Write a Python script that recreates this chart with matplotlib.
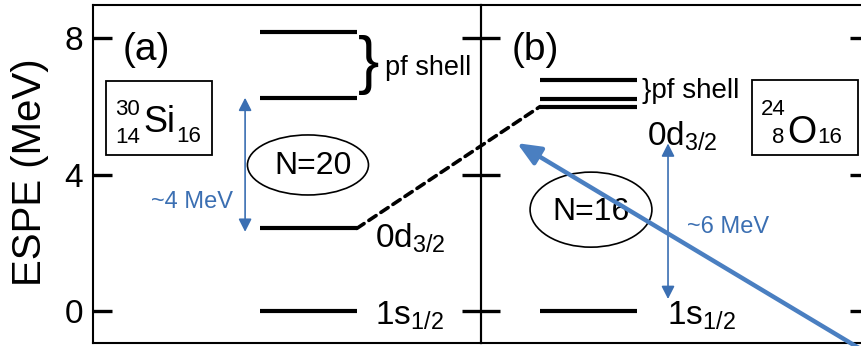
import matplotlib
matplotlib.use("Agg")
import matplotlib.pyplot as plt
from matplotlib.patches import Ellipse, Rectangle, ConnectionPatch

plt.rcParams['font.family'] = ['Liberation Sans', 'DejaVu Sans']
plt.rcParams['mathtext.fontset'] = 'custom'
plt.rcParams['mathtext.rm'] = 'Liberation Sans'
plt.rcParams['mathtext.default'] = 'regular'

# ---------------- data ----------------
si_pf_levels = [8.17, 6.23]          # 30Si pf-shell ESPEs (MeV)
si_d32 = 2.42                        # 30Si 0d3/2
si_s12 = 0.0                         # 30Si 1s1/2
o_pf_levels = [6.77, 6.20]           # 24O pf-shell ESPEs (MeV)
o_d32 = 5.99                         # 24O 0d3/2
o_s12 = 0.0                          # 24O 1s1/2
gap_si = (si_d32 - 0.10, si_pf_levels[1] + 0.02)   # ~4 MeV arrow ends
gap_o = (0.35, 4.91)                               # ~6 MeV arrow ends
yticks = [0, 4, 8]
ytick_labels = ['0', '4', '8']
ylabel = 'ESPE (MeV)'

BLUE = '#3b6fb2'
BIGBLUE = '#4a7fc1'

W, H = 861, 346
fig = plt.figure(figsize=(W / 100, H / 100), dpi=100)
axa = fig.add_axes([93 / W, 3 / H, 388 / W, 338 / H])
axb = fig.add_axes([481 / W, 3 / H, 388 / W, 338 / H])

for ax in (axa, axb):
    ax.set_xlim(0, 1)
    ax.set_ylim(-0.94, 8.97)
    ax.set_xticks([])
    ax.set_yticks(yticks)
    ax.set_yticks([0], minor=True)
    ax.tick_params(axis='y', which='major', direction='in', left=True, right=True,
                   length=13.7, width=2.4, labelsize=24, pad=7)
    ax.tick_params(axis='y', which='minor', direction='in', left=True, right=True,
                   length=20.9, width=2.4, labelleft=False)
    for s in ax.spines.values():
        s.set_linewidth(1.5)
    ax.patch.set_alpha(0)

axa.set_yticklabels(ytick_labels)
axb.tick_params(axis='y', labelleft=False)

fig.text(30 / W, 1 - 172 / H, ylabel, rotation=90, fontsize=29,
         ha='center', va='center')

# ---------------- panel (a): 30Si ----------------
ax0, ax1 = 0.43, 0.68
axa.hlines(si_pf_levels + [si_d32, si_s12], ax0, ax1, colors='k', lw=3)
axa.text(0.138, 7.65, '(a)', fontsize=28, ha='center', va='center')
axa.text(0.711, 7.2, '}', fontsize=46, ha='center', va='center')
axa.text(0.753, 6.92, 'pf shell', fontsize=19.5, ha='left', va='baseline')
axa.text(0.727, 1.85, '0d$_{3/2}$', fontsize=24, ha='left', va='baseline')
axa.text(0.727, -0.41, '1s$_{1/2}$', fontsize=24, ha='left', va='baseline')

axa.add_patch(Rectangle((0.0335, 4.57), 0.2735, 2.17, fill=False, lw=1.3, color='k'))
axa.text(0.129, 5.245, 'Si', fontsize=26, ha='left', va='baseline')
axa.text(0.121, 5.74, '30', fontsize=16, ha='right', va='baseline')
axa.text(0.121, 4.92, '14', fontsize=16, ha='right', va='baseline')
axa.text(0.214, 4.95, '16', fontsize=16, ha='left', va='baseline')

axa.add_patch(Ellipse((0.554, 4.28), 0.312, 1.76, fill=False, lw=1.2, color='k'))
axa.text(0.567, 4.25, 'N=20', fontsize=23, ha='center', va='center')

axa.annotate('', xy=(0.392, gap_si[1]), xytext=(0.392, gap_si[0]),
             arrowprops=dict(arrowstyle='<|-|>,head_length=0.55,head_width=0.28',
                             mutation_scale=14, color=BLUE, lw=1.2,
                             shrinkA=0, shrinkB=0))
axa.text(0.255, 3.19, '~4 MeV', fontsize=17, color=BLUE, ha='center', va='center')

# ---------------- panel (b): 24O ----------------
bx0, bx1 = 0.152, 0.402
axb.hlines(o_pf_levels + [o_d32, o_s12], bx0, bx1, colors='k', lw=3)
axb.text(0.139, 7.65, '(b)', fontsize=28, ha='center', va='center')
axb.text(0.415, 6.24, '}pf shell', fontsize=20, ha='left', va='baseline')
axb.text(0.428, 4.84, '0d$_{3/2}$', fontsize=24, ha='left', va='baseline')
axb.text(0.479, -0.41, '1s$_{1/2}$', fontsize=24, ha='left', va='baseline')

axb.add_patch(Rectangle((0.698, 4.57), 0.274, 2.2, fill=False, lw=1.3, color='k'))
axb.text(0.789, 4.92, 'O', fontsize=27, ha='left', va='baseline')
axb.text(0.786, 5.74, '24', fontsize=16, ha='right', va='baseline')
axb.text(0.783, 4.92, '8', fontsize=16, ha='right', va='baseline')
axb.text(0.866, 4.92, '16', fontsize=16, ha='left', va='baseline')

axb.add_patch(Ellipse((0.2835, 2.97), 0.314, 2.2, fill=False, lw=1.2, color='k'))
axb.text(0.2835, 2.9, 'N=16', fontsize=23, ha='center', va='center')

axb.annotate('', xy=(0.482, gap_o[1]), xytext=(0.482, gap_o[0]),
             arrowprops=dict(arrowstyle='<|-|>,head_length=0.55,head_width=0.28',
                             mutation_scale=14, color=BLUE, lw=1.2,
                             shrinkA=0, shrinkB=0))
axb.text(0.637, 2.46, '~6 MeV', fontsize=17, color=BLUE, ha='center', va='center')

# dashed connection of 0d3/2 between panels
con = ConnectionPatch(xyA=(ax1, si_d32), coordsA=axa.transData,
                      xyB=(bx0, o_d32), coordsB=axb.transData,
                      color='k', lw=2.6, linestyle=(0, (2.4, 1.6)))
fig.add_artist(con)

# big blue arrow pointing at the dashed line
axb.annotate('', xy=(0.093, 4.92), xytext=(1.08, -1.81),
             annotation_clip=False,
             arrowprops=dict(arrowstyle='-|>,head_length=0.7,head_width=0.3',
                             mutation_scale=20, color=BIGBLUE, lw=3.2,
                             shrinkA=0, shrinkB=0))

fig.savefig('out.png', dpi=100)
